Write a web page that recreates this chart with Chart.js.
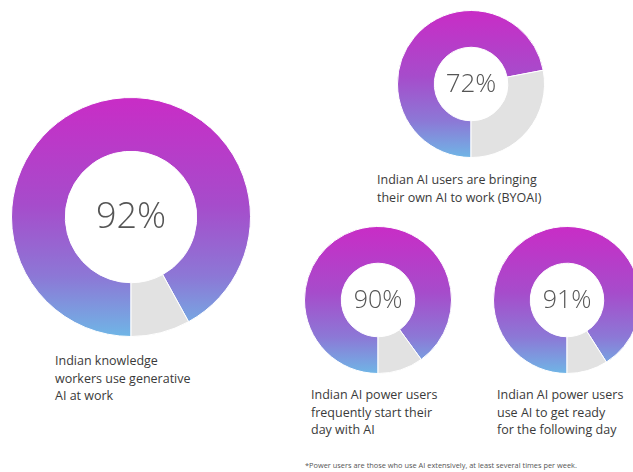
<!DOCTYPE html>
<html>
<head>
<meta charset="utf-8">
<script src="https://cdn.jsdelivr.net/npm/chart.js@4.4.1/dist/chart.umd.min.js"></script>
<style>
  html, body { margin: 0; padding: 0; background: #fff; }
  body { width: 633px; height: 472px; position: relative; overflow: hidden; font-family: "Open Sans", "Noto Sans", sans-serif; }
  .donut { position: absolute; }
  .label { position: absolute; color: #3a3a3a; font-size: 12.5px; line-height: 17.5px; white-space: nowrap; }
  .note { position: absolute; left: 305px; top: 460px; font-size: 7.4px; color: #555; white-space: nowrap; }
</style>
</head>
<body>

<canvas id="c0" class="donut" width="240" height="240" style="left:11px;top:97px"></canvas>
<canvas id="c1" class="donut" width="148" height="148" style="left:397px;top:10px"></canvas>
<canvas id="c2" class="donut" width="148" height="148" style="left:304px;top:226px"></canvas>
<canvas id="c3" class="donut" width="148" height="148" style="left:493px;top:226px"></canvas>

<div class="label" style="left:55px;top:352px">Indian knowledge<br>workers use generative<br>AI at work</div>
<div class="label" style="left:377px;top:171px">Indian AI users are bringing<br>their own AI to work (BYOAI)</div>
<div class="label" style="left:311px;top:386px">Indian AI power users<br>frequently start their<br>day with AI</div>
<div class="label" style="left:497px;top:386px">Indian AI power users<br>use AI to get ready<br>for the following day</div>
<div class="note">*Power users are those who use AI extensively, at least several times per week.</div>

<script>
// chart data
const percentages = [92, 72, 90, 91];
const segmentNames = ['Yes', 'Other'];
const canvasIds = ['c0', 'c1', 'c2', 'c3'];
const cutouts = ['55%', '50%', '50%', '50%'];
const centerFontSizes = [36, 26, 25, 25];

// vertical magenta -> blue fill for the main segment
function ringColor(context) {
    if (context.dataIndex === 1) return '#e2e2e2';
    const area = context.chart.chartArea;
    if (!area) return '#b040c8';
    const g = context.chart.ctx.createLinearGradient(0, area.top, 0, area.bottom);
    g.addColorStop(0, '#c92cc6');
    g.addColorStop(0.45, '#a64ccb');
    g.addColorStop(0.75, '#8c78d6');
    g.addColorStop(1, '#6fb6e6');
    return g;
}

const centerText = {
    id: 'centerText',
    afterDraw(chart, args, opts) {
        const ctx = chart.ctx;
        const meta = chart.getDatasetMeta(0).data[0];
        ctx.save();
        ctx.font = '300 ' + opts.size + 'px "Open Sans", Lato, sans-serif';
        ctx.fillStyle = '#555555';
        ctx.textAlign = 'center';
        ctx.textBaseline = 'middle';
        ctx.fillText(opts.text, meta.x, meta.y + 1);
        ctx.restore();
    }
};

percentages.forEach((pct, i) => {
    const ctx = document.getElementById(canvasIds[i]).getContext('2d');
    new Chart(ctx, {
        type: 'doughnut',
        data: {
            labels: segmentNames,
            datasets: [{
                data: [pct, 100 - pct],
                backgroundColor: ringColor,
                borderColor: '#ffffff',
                borderWidth: 1
            }]
        },
        options: {
            responsive: false,
            animation: false,
            cutout: cutouts[i],
            rotation: 180,
            layout: { padding: 0 },
            plugins: {
                legend: { display: false },
                tooltip: { enabled: false },
                centerText: { text: pct + '%', size: centerFontSizes[i] }
            }
        },
        plugins: [centerText]
    });
});
</script>
</body>
</html>
